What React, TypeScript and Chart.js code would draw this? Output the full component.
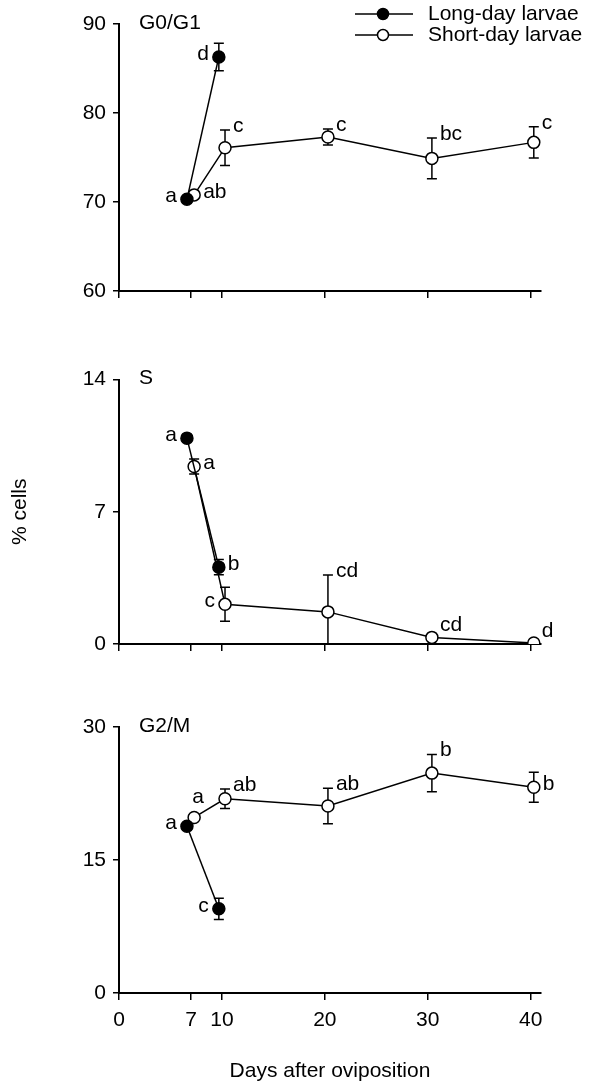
import React, { useRef, useEffect } from 'react';
import Chart from 'chart.js/auto';

const FONT = "'Liberation Sans', Arial, sans-serif";
const FS = 21;

// x positions (days after oviposition)
const longDays = [6.6, 9.7];
const shortDays = [7.3, 10.3, 20.3, 30.4, 40.3];
const xTickValues = [0, 7, 10, 20, 30, 40];

// G0/G1
const g1Long = [70.3, 86.3];
const g1LongErr = [0.4, 1.55];
const g1LongLetters = ['a', 'd'];
const g1Short = [70.8, 76.1, 77.3, 74.9, 76.7];
const g1ShortErr = [0.3, 2.0, 0.9, 2.3, 1.75];
const g1ShortLetters = ['ab', 'c', 'c', 'bc', 'c'];

// S
const sLong = [10.9, 4.07];
const sLongErr = [0.15, 0.4];
const sLongLetters = ['a', 'b'];
const sShort = [9.4, 2.1, 1.7, 0.35, 0.05];
const sShortErr = [0.4, 0.9, 1.95, 0.1, 0.05];
const sShortLetters = ['a', 'c', 'cd', 'cd', 'd'];

// G2/M
const g2Long = [18.8, 9.5];
const g2LongErr = [0.4, 1.2];
const g2LongLetters = ['a', 'c'];
const g2Short = [19.8, 21.9, 21.1, 24.8, 23.2];
const g2ShortErr = [0.3, 1.1, 2.0, 2.1, 1.7];
const g2ShortLetters = ['a', 'ab', 'ab', 'b', 'b'];

type Panel = {
  name: string;
  min: number;
  max: number;
  step: number;
  long: number[];
  longErr: number[];
  longLetters: string[];
  longPlace: string[];
  short: number[];
  shortErr: number[];
  shortLetters: string[];
  shortPlace: string[];
  top: number;
  height: number;
  padTop: number;
  xHeight: number;
  bottom: boolean;
  yTitle: boolean;
  legend: boolean;
};

const panels: Panel[] = [
  {
    name: 'G0/G1', min: 60, max: 90, step: 10,
    long: g1Long, longErr: g1LongErr, longLetters: g1LongLetters, longPlace: ['l', 'l'],
    short: g1Short, shortErr: g1ShortErr, shortLetters: g1ShortLetters, shortPlace: ['r', 'ur', 'ur', 'ur', 'ur'],
    top: 0, height: 311, padTop: 24, xHeight: 20, bottom: false, yTitle: false, legend: true,
  },
  {
    name: 'S', min: 0, max: 14, step: 7,
    long: sLong, longErr: sLongErr, longLetters: sLongLetters, longPlace: ['l', 'r'],
    short: sShort, shortErr: sShortErr, shortLetters: sShortLetters, shortPlace: ['r', 'l', 'ur', 'ur', 'ur'],
    top: 360, height: 304, padTop: 19, xHeight: 20, bottom: false, yTitle: true, legend: false,
  },
  {
    name: 'G2/M', min: 0, max: 30, step: 15,
    long: g2Long, longErr: g2LongErr, longLetters: g2LongLetters, longPlace: ['l', 'l'],
    short: g2Short, shortErr: g2ShortErr, shortLetters: g2ShortLetters, shortPlace: ['u', 'ur', 'ur', 'ur', 'r'],
    top: 705, height: 383, padTop: 22, xHeight: 95, bottom: true, yTitle: false, legend: false,
  },
];

const setsOf = (p: Panel) => [
  { days: longDays, vals: p.long, err: p.longErr, letters: p.longLetters, place: p.longPlace },
  { days: shortDays, vals: p.short, err: p.shortErr, letters: p.shortLetters, place: p.shortPlace },
];

const decorPlugin = {
  id: 'decor',
  // error bars under the markers
  beforeDatasetsDraw(chart: any, _args: any, opts: any) {
    const { ctx } = chart;
    const xs = chart.scales.x;
    const ys = chart.scales.y;
    const p: Panel = opts.panel;
    ctx.save();
    ctx.strokeStyle = '#000';
    ctx.lineWidth = 1.5;
    setsOf(p).forEach((s) => {
      s.vals.forEach((v, i) => {
        const x = xs.getPixelForValue(s.days[i]);
        const y1 = ys.getPixelForValue(v + s.err[i]);
        const y0 = ys.getPixelForValue(Math.max(v - s.err[i], p.min));
        ctx.beginPath();
        ctx.moveTo(x, y0); ctx.lineTo(x, y1);
        ctx.moveTo(x - 5, y0); ctx.lineTo(x + 5, y0);
        ctx.moveTo(x - 5, y1); ctx.lineTo(x + 5, y1);
        ctx.stroke();
      });
    });
    ctx.restore();
  },
  afterDatasetsDraw(chart: any, _args: any, opts: any) {
    const { ctx, chartArea } = chart;
    const xs = chart.scales.x;
    const ys = chart.scales.y;
    const p: Panel = opts.panel;
    ctx.save();
    ctx.strokeStyle = '#000';
    ctx.fillStyle = '#000';
    ctx.lineWidth = 1.5;
    ctx.font = `${FS}px ${FONT}`;
    ctx.textBaseline = 'middle';
    setsOf(p).forEach((s) => {
      s.vals.forEach((v, i) => {
        const x = xs.getPixelForValue(s.days[i]);
        const y1 = ys.getPixelForValue(v + s.err[i]);
        const y = ys.getPixelForValue(v);
        const pl = s.place[i];
        if (pl === 'l') { ctx.textAlign = 'right'; ctx.fillText(s.letters[i], x - 10, y - 3); }
        else if (pl === 'r') { ctx.textAlign = 'left'; ctx.fillText(s.letters[i], x + 9, y - 3); }
        else if (pl === 'u') { ctx.textAlign = 'left'; ctx.fillText(s.letters[i], x - 2, y - 20); }
        else { ctx.textAlign = 'left'; ctx.fillText(s.letters[i], x + 8, Math.min(y1, y - 8) - 4); }
      });
    });
    ctx.textAlign = 'left';
    ctx.fillText(p.name, chartArea.left + 20, chartArea.top - 1);
    if (p.legend) {
      const items = [
        { label: 'Long-day larvae', fill: '#000', y: 14 },
        { label: 'Short-day larvae', fill: '#fff', y: 35 },
      ];
      items.forEach((it) => {
        ctx.beginPath();
        ctx.moveTo(355, it.y); ctx.lineTo(413, it.y);
        ctx.stroke();
        ctx.beginPath();
        ctx.arc(383, it.y, 5.5, 0, Math.PI * 2);
        ctx.fillStyle = it.fill;
        ctx.fill();
        ctx.stroke();
        ctx.fillStyle = '#000';
        ctx.fillText(it.label, 428, it.y);
      });
    }
    ctx.restore();
  },
};

const PanelChart: React.FC<{ p: Panel }> = ({ p }) => {
  const ref = useRef<HTMLCanvasElement>(null);
  useEffect(() => {
    if (!ref.current) return;
    const chart = new Chart(ref.current, {
      type: 'line',
      data: {
        datasets: [
          {
            label: 'Long-day larvae',
            data: longDays.map((d, i) => ({ x: d, y: p.long[i] })),
            borderColor: '#000', borderWidth: 1.5,
            pointBackgroundColor: '#000', pointBorderColor: '#000',
            pointRadius: 6, pointBorderWidth: 1.5,
          },
          {
            label: 'Short-day larvae',
            data: shortDays.map((d, i) => ({ x: d, y: p.short[i] })),
            borderColor: '#000', borderWidth: 1.5,
            pointBackgroundColor: '#fff', pointBorderColor: '#000',
            pointRadius: 6, pointBorderWidth: 1.5,
          },
        ],
      },
      options: {
        animation: false,
        responsive: false,
        devicePixelRatio: 1,
        layout: { padding: { top: p.padTop, right: 68, left: 0, bottom: 0 } },
        plugins: {
          legend: { display: false },
          tooltip: { enabled: false },
          decor: { panel: p },
        } as any,
        scales: {
          x: {
            type: 'linear', min: 0, max: 41,
            afterBuildTicks: (a: any) => { a.ticks = xTickValues.map((v) => ({ value: v })); },
            afterFit: (a: any) => { a.height = p.xHeight; },
            grid: { drawOnChartArea: false, drawTicks: true, tickLength: 7, color: '#000', lineWidth: 1.5 },
            border: { color: '#000', width: 2 },
            ticks: { display: p.bottom, color: '#000', font: { family: FONT, size: FS }, padding: 8, maxRotation: 0 },
            title: {
              display: p.bottom, text: 'Days after oviposition', color: '#000',
              font: { family: FONT, size: FS }, padding: { top: 18 },
            },
          },
          y: {
            min: p.min, max: p.max,
            afterFit: (a: any) => { a.width = 119; },
            grid: { drawOnChartArea: false, drawTicks: true, tickLength: 6, color: '#000', lineWidth: 1.5 },
            border: { color: '#000', width: 2 },
            ticks: { stepSize: p.step, color: '#000', font: { family: FONT, size: FS }, padding: 7 },
            title: {
              display: p.yTitle, text: '% cells', color: '#000',
              font: { family: FONT, size: FS }, padding: { top: 8, bottom: 0 },
            },
          },
        },
      },
      plugins: [decorPlugin],
    });
    return () => chart.destroy();
  }, [p]);
  return (
    <canvas
      ref={ref}
      width={609}
      height={p.height}
      style={{ position: 'absolute', left: 0, top: p.top, width: 609, height: p.height }}
    />
  );
};

export default function App() {
  return (
    <div style={{ position: 'absolute', left: 0, top: 0, width: 609, height: 1088, background: '#fff' }}>
      {panels.map((p) => (
        <PanelChart key={p.name} p={p} />
      ))}
    </div>
  );
}
